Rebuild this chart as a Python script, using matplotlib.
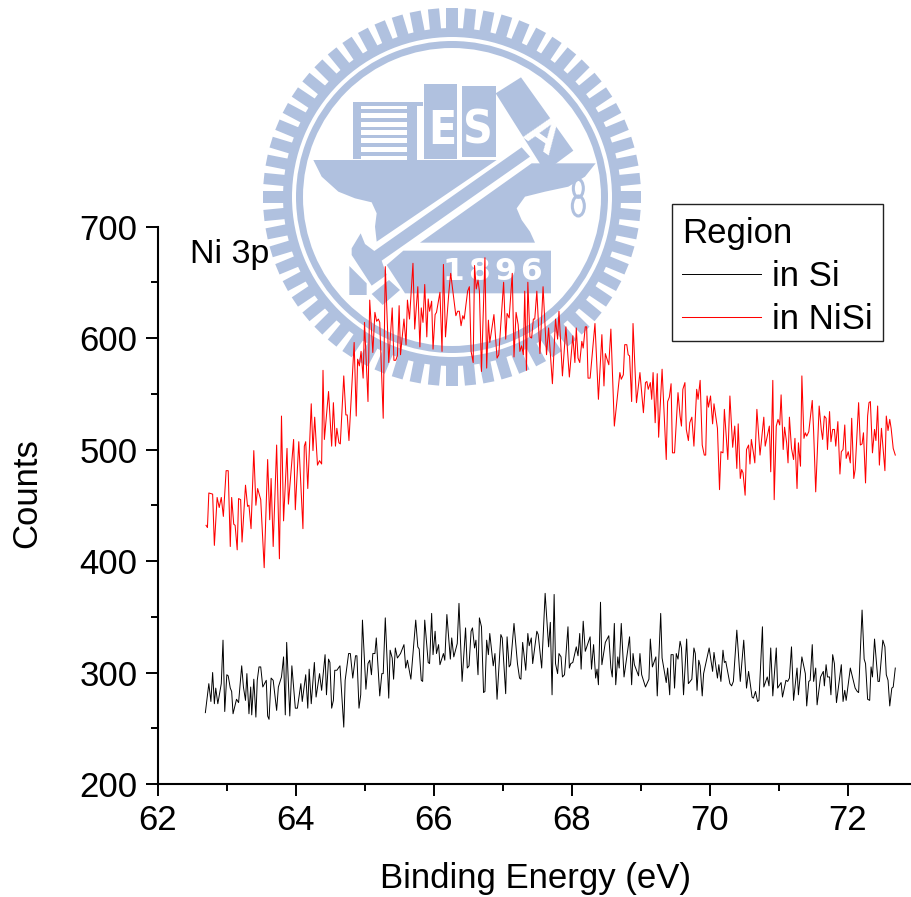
import numpy as np
import matplotlib
matplotlib.use('Agg')
import matplotlib.pyplot as plt
from matplotlib.patches import Wedge, Polygon, Rectangle, Ellipse
from matplotlib.ticker import MultipleLocator

plt.rcParams['font.family'] = ['Liberation Sans', 'DejaVu Sans']

# values
nisi_energy = [
    62.68, 62.70, 62.72, 62.775, 62.80, 62.84, 62.87, 62.90, 62.93, 62.97, 63.00, 63.03, 63.05, 63.08, 63.10, 63.13,
    63.15, 63.18, 63.20, 63.25, 63.28, 63.30, 63.33, 63.37, 63.40, 63.425, 63.47, 63.52, 63.57, 63.60, 63.62, 63.65,
    63.70, 63.74, 63.77, 63.80, 63.85, 63.87, 63.945, 63.97, 64.02, 64.08, 64.10, 64.12, 64.15, 64.20, 64.225, 64.25,
    64.29, 64.32, 64.35, 64.37, 64.39, 64.45, 64.495, 64.52, 64.55, 64.57, 64.60, 64.62, 64.67, 64.70, 64.72, 64.745,
    64.82, 64.85, 64.87, 64.895, 64.92, 64.95, 64.97, 65.02, 65.045, 65.09, 65.12, 65.145, 65.17, 65.19, 65.24, 65.27,
    65.32, 65.37, 65.395, 65.42, 65.445, 65.47, 65.49, 65.54, 65.57, 65.59, 65.62, 65.67, 65.695, 65.74, 65.77, 65.79,
    65.815, 65.84, 65.87, 65.89, 65.91, 65.94, 65.96, 65.99, 66.01, 66.06, 66.09, 66.11, 66.14, 66.19, 66.215, 66.29,
    66.315, 66.34, 66.365, 66.39, 66.41, 66.46, 66.485, 66.51, 66.54, 66.56, 66.585, 66.61, 66.63, 66.66, 66.71, 66.735,
    66.76, 66.78, 66.84, 66.885, 66.91, 66.98, 67.01, 67.03, 67.06, 67.105, 67.13, 67.16, 67.19, 67.215, 67.24, 67.265,
    67.285, 67.31, 67.33, 67.36, 67.385, 67.41, 67.43, 67.46, 67.505, 67.55, 67.60, 67.63, 67.685, 67.73, 67.76, 67.78,
    67.83, 67.88, 67.93, 67.98, 68.01, 68.03, 68.055, 68.08, 68.11, 68.13, 68.16, 68.18, 68.20, 68.23, 68.30, 68.35,
    68.40, 68.43, 68.45, 68.50, 68.53, 68.58, 68.66, 68.68, 68.71, 68.73, 68.76, 68.78, 68.80, 68.83, 68.85, 68.90,
    68.95, 69.00, 69.03, 69.05, 69.07, 69.10, 69.12, 69.14, 69.17, 69.20, 69.22, 69.27, 69.33, 69.35, 69.375, 69.40,
    69.42, 69.45, 69.50, 69.53, 69.55, 69.57, 69.60, 69.62, 69.65, 69.67, 69.70, 69.73, 69.77, 69.79, 69.82, 69.85,
    69.88, 69.90, 69.92, 69.94, 69.97, 70.00, 70.02, 70.07, 70.10, 70.12, 70.15, 70.17, 70.22, 70.25, 70.29, 70.32,
    70.35, 70.37, 70.40, 70.42, 70.44, 70.47, 70.49, 70.52, 70.54, 70.56, 70.59, 70.61, 70.64, 70.685, 70.74, 70.76,
    70.82, 70.84, 70.87, 70.89, 70.92, 70.945, 70.97, 70.99, 71.02, 71.04, 71.07, 71.09, 71.11, 71.14, 71.17, 71.19,
    71.22, 71.24, 71.27, 71.29, 71.32, 71.34, 71.36, 71.39, 71.44, 71.46, 71.49, 71.54, 71.57, 71.59, 71.615, 71.64,
    71.66, 71.69, 71.71, 71.735, 71.76, 71.78, 71.81, 71.84, 71.86, 71.885, 71.91, 71.93, 71.96, 71.99, 72.01, 72.04,
    72.06, 72.11, 72.135, 72.16, 72.18, 72.21, 72.24, 72.26, 72.28, 72.31, 72.34, 72.36, 72.385, 72.41, 72.44, 72.49,
    72.51, 72.535, 72.56, 72.58, 72.61, 72.64]
nisi_counts = [
    432, 430, 461, 460, 414, 457, 448, 457, 440, 481, 481, 413, 457, 433, 432, 410,
    456, 455, 417, 468, 449, 450, 429, 499, 450, 465, 455, 394, 491, 437, 474, 413,
    504, 402, 530, 436, 501, 451, 509, 446, 507, 429, 503, 507, 465, 541, 499, 529,
    486, 490, 487, 571, 509, 552, 503, 542, 503, 519, 506, 505, 566, 531, 531, 508,
    596, 530, 581, 575, 588, 564, 614, 543, 634, 587, 623, 615, 617, 614, 528, 664,
    578, 627, 580, 580, 584, 629, 585, 617, 594, 634, 617, 667, 608, 646, 592, 627,
    614, 648, 601, 635, 624, 633, 590, 621, 623, 641, 588, 666, 601, 642, 658, 620,
    624, 624, 611, 620, 617, 642, 646, 588, 578, 665, 644, 652, 642, 570, 672, 573,
    616, 596, 621, 582, 585, 650, 599, 622, 618, 658, 583, 623, 612, 588, 593, 585,
    642, 571, 650, 601, 600, 617, 617, 642, 586, 646, 585, 609, 559, 617, 599, 624,
    566, 610, 565, 602, 578, 609, 582, 578, 597, 591, 610, 610, 564, 564, 613, 545,
    603, 557, 586, 576, 608, 521, 569, 563, 567, 594, 594, 585, 584, 543, 613, 542,
    569, 533, 560, 561, 554, 560, 545, 569, 524, 568, 511, 572, 491, 543, 547, 559,
    497, 497, 551, 530, 521, 554, 560, 518, 508, 524, 529, 503, 554, 545, 562, 504,
    495, 495, 548, 538, 548, 523, 541, 519, 464, 498, 497, 536, 491, 548, 502, 521,
    483, 523, 474, 482, 479, 459, 500, 504, 487, 509, 497, 488, 536, 495, 529, 503,
    521, 480, 562, 455, 521, 527, 522, 549, 500, 520, 506, 488, 529, 501, 491, 510,
    465, 506, 485, 566, 510, 515, 512, 516, 544, 516, 462, 539, 518, 509, 530, 528,
    500, 534, 507, 518, 518, 503, 525, 478, 498, 500, 522, 492, 498, 488, 528, 474,
    482, 542, 504, 505, 515, 470, 530, 542, 543, 497, 518, 508, 539, 486, 519, 481,
    530, 517, 527, 519, 501, 495]
si_energy = [
    62.67, 62.72, 62.75, 62.775, 62.80, 62.82, 62.85, 62.90, 62.925, 62.95, 62.98, 63.00, 63.03, 63.05, 63.07, 63.12,
    63.15, 63.195, 63.22, 63.25, 63.27, 63.30, 63.325, 63.34, 63.37, 63.40, 63.42, 63.445, 63.47, 63.50, 63.55, 63.57,
    63.59, 63.62, 63.65, 63.70, 63.725, 63.77, 63.80, 63.825, 63.845, 63.89, 63.92, 63.97, 64.00, 64.05, 64.07, 64.12,
    64.15, 64.17, 64.20, 64.245, 64.27, 64.32, 64.35, 64.40, 64.42, 64.45, 64.47, 64.495, 64.52, 64.54, 64.57, 64.615,
    64.67, 64.69, 64.74, 64.765, 64.80, 64.84, 64.86, 64.89, 64.915, 64.94, 64.99, 65.02, 65.045, 65.07, 65.09, 65.12,
    65.14, 65.19, 65.22, 65.24, 65.27, 65.32, 65.34, 65.37, 65.39, 65.415, 65.445, 65.49, 65.54, 65.565, 65.59, 65.64,
    65.71, 65.74, 65.76, 65.79, 65.81, 65.84, 65.89, 65.91, 65.94, 65.96, 65.99, 66.01, 66.04, 66.06, 66.11, 66.13,
    66.16, 66.21, 66.23, 66.26, 66.31, 66.335, 66.38, 66.43, 66.455, 66.48, 66.51, 66.53, 66.56, 66.58, 66.61, 66.63,
    66.66, 66.69, 66.71, 66.735, 66.76, 66.78, 66.83, 66.855, 66.885, 66.94, 66.96, 67.01, 67.03, 67.06, 67.08, 67.13,
    67.18, 67.21, 67.23, 67.255, 67.30, 67.33, 67.35, 67.38, 67.40, 67.46, 67.48, 67.53, 67.58, 67.63, 67.655, 67.68,
    67.71, 67.73, 67.76, 67.78, 67.81, 67.83, 67.86, 67.91, 67.93, 67.95, 67.98, 68.03, 68.055, 68.08, 68.10, 68.13,
    68.16, 68.23, 68.25, 68.28, 68.31, 68.33, 68.35, 68.38, 68.40, 68.45, 68.50, 68.53, 68.55, 68.58, 68.60, 68.63,
    68.65, 68.68, 68.72, 68.80, 68.83, 68.85, 68.87, 68.93, 68.95, 68.975, 69.03, 69.08, 69.10, 69.13, 69.18, 69.20,
    69.25, 69.27, 69.33, 69.35, 69.38, 69.40, 69.43, 69.45, 69.475, 69.50, 69.53, 69.55, 69.58, 69.625, 69.65, 69.70,
    69.73, 69.75, 69.775, 69.80, 69.82, 69.85, 69.87, 69.95, 70.00, 70.02, 70.07, 70.09, 70.12, 70.15, 70.17, 70.19,
    70.25, 70.275, 70.30, 70.35, 70.40, 70.45, 70.49, 70.52, 70.57, 70.59, 70.62, 70.65, 70.67, 70.72, 70.74, 70.79,
    70.815, 70.84, 70.87, 70.92, 70.94, 70.99, 71.01, 71.06, 71.085, 71.11, 71.14, 71.17, 71.22, 71.24, 71.29, 71.34,
    71.36, 71.39, 71.41, 71.44, 71.46, 71.49, 71.51, 71.56, 71.60, 71.615, 71.64, 71.66, 71.69, 71.71, 71.735, 71.76,
    71.79, 71.86, 71.885, 71.91, 71.93, 71.99, 72.06, 72.09, 72.11, 72.16, 72.19, 72.21, 72.24, 72.27, 72.29, 72.31,
    72.34, 72.39, 72.41, 72.46, 72.49, 72.51, 72.535, 72.56, 72.59, 72.61, 72.64]
si_counts = [
    264, 290, 274, 300, 272, 286, 272, 290, 329, 265, 298, 297, 286, 283, 263, 276,
    273, 306, 287, 275, 299, 263, 287, 262, 294, 260, 293, 305, 305, 287, 293, 261,
    258, 295, 293, 266, 287, 296, 314, 262, 327, 261, 306, 268, 268, 290, 274, 298,
    268, 303, 272, 309, 278, 299, 284, 316, 280, 312, 309, 268, 275, 302, 302, 306,
    251, 293, 317, 317, 295, 315, 315, 268, 280, 347, 285, 308, 311, 298, 317, 317,
    331, 279, 299, 299, 349, 277, 320, 313, 294, 322, 313, 317, 325, 304, 311, 294,
    347, 323, 321, 293, 292, 347, 309, 308, 353, 316, 337, 317, 325, 307, 317, 311,
    352, 312, 331, 314, 326, 362, 292, 340, 304, 306, 337, 340, 322, 329, 298, 349,
    341, 282, 283, 329, 316, 335, 306, 317, 276, 334, 331, 281, 332, 305, 307, 344,
    308, 295, 294, 327, 302, 335, 324, 331, 308, 337, 334, 304, 371, 323, 345, 280,
    370, 308, 299, 317, 314, 296, 298, 341, 304, 308, 309, 323, 315, 335, 303, 346,
    319, 332, 303, 325, 295, 303, 289, 363, 307, 327, 333, 304, 296, 344, 289, 314,
    304, 344, 296, 332, 289, 317, 307, 297, 317, 298, 287, 294, 330, 305, 314, 279,
    353, 313, 291, 304, 280, 316, 316, 286, 317, 312, 328, 322, 280, 330, 290, 294,
    322, 317, 284, 311, 306, 279, 299, 322, 301, 318, 295, 307, 292, 320, 309, 310,
    290, 288, 292, 338, 292, 329, 286, 301, 278, 277, 283, 274, 275, 341, 287, 296,
    288, 322, 279, 322, 286, 291, 278, 293, 292, 295, 323, 275, 304, 280, 314, 299,
    270, 292, 293, 325, 292, 304, 271, 296, 301, 288, 307, 296, 296, 280, 316, 308,
    273, 307, 274, 284, 275, 304, 286, 283, 282, 356, 312, 308, 276, 275, 305, 296,
    330, 292, 292, 329, 323, 298, 293, 270, 286, 287, 304]

x_ticks = [62, 64, 66, 68, 70, 72]
y_ticks = [200, 300, 400, 500, 600, 700]

W, H = 911, 897
LOGO = '#B0C1DF'

fig = plt.figure(figsize=(W / 100, H / 100), dpi=100)

# watermark behind the plot, drawn in pixel coordinates
bg = fig.add_axes([0, 0, 1, 1], zorder=0)
bg.set_xlim(0, W)
bg.set_ylim(H, 0)
bg.axis('off')


def lp(x, y):
    # logo outlines were measured on a 3x crop starting at x=255
    return (255 + x / 3, y / 3)


def poly(points, color=LOGO):
    bg.add_patch(Polygon([lp(*p) for p in points], closed=True, fc=color, ec='none'))


def rect(x0, y0, x1, y1, color=LOGO):
    bg.add_patch(Rectangle(lp(x0, y0), (x1 - x0) / 3, (y1 - y0) / 3, fc=color, ec='none'))


center = (452, 197)
n_teeth = 64
for i in range(n_teeth):
    a = 2 * np.pi * i / n_teeth
    ux, uy = np.cos(a), np.sin(a)
    corners = [(r * ux + s * -uy, r * uy + s * ux) for r, s in [(167, -5.6), (189, -5.6), (189, 5.6), (167, 5.6)]]
    bg.add_patch(Polygon([(center[0] + px, center[1] + py) for px, py in corners], closed=True, fc=LOGO, ec='none'))
bg.add_patch(Wedge(center, 169, 0, 360, width=9, fc=LOGO, ec='none'))
bg.add_patch(Wedge(center, 156, 0, 360, width=7, fc=LOGO, ec='none'))

# anvil, hammer
poly([(175, 480), (200, 530), (250, 575), (300, 595), (350, 607), (365, 640), (360, 680), (365, 725), (725, 480)])
poly([(317, 700), (330, 732), (358, 753), (800, 442), (825, 470), (380, 782), (395, 825), (350, 857), (290, 765), (290, 745)])
poly([(495, 728), (830, 490), (1022, 490), (990, 530), (940, 560), (870, 575), (810, 590), (785, 625), (800, 660), (825, 695), (840, 728)])
poly([(445, 752), (888, 752), (888, 880), (450, 880), (395, 795)])
poly([(283, 798), (335, 850), (335, 885), (283, 885)])
poly([(350, 882), (402, 840), (435, 870), (383, 915)])

# books
rect(293, 305, 503, 317)
rect(293, 305, 319, 478)
rect(455, 305, 487, 482)
for y0, y1 in [(328, 338), (355, 365), (380, 390), (405, 415), (430, 442), (455, 468)]:
    rect(319, y0, 455, y1)
rect(507, 252, 607, 478)
rect(622, 258, 723, 472)
poly([(722, 280), (798, 232), (955, 452), (870, 515)])

condensed = dict(color='white', fontweight='bold', ha='center', va='center', family='DejaVu Sans', stretch='condensed')
bg.text(*lp(561, 393), 'E', fontsize=33, **condensed)
bg.text(*lp(670, 393), 'S', fontsize=33, **condensed)
bg.text(*lp(861, 412), 'A', fontsize=34, rotation=-35, color='white', fontweight='bold', ha='center', va='center')
for x, ch in zip([595, 672, 750, 827], '1896'):
    bg.text(*lp(x, 813), ch, fontsize=22.5, color='white', fontweight='bold', ha='center', va='center', family='DejaVu Sans')

# the small 8 on the anvil
bg.add_patch(Ellipse(lp(970, 565), 10, 18, fc='none', ec=LOGO, lw=2.2))
bg.add_patch(Ellipse(lp(970, 618), 12, 20, fc='none', ec=LOGO, lw=2.2))

# plot
x_left, x_right = 158, 911
y_bottom, y_top = 784, 226.5
ax = fig.add_axes([x_left / W, 1 - y_bottom / H, (x_right - x_left) / W, (y_bottom - y_top) / H], zorder=1)
ax.patch.set_visible(False)

# the energies above were read with a slightly off scale, 1.0029 and 0.0145 put them on the tick marks
si_x = 62 + (np.array(si_energy) - 62) * 1.0029 + 0.0145
nisi_x = 62 + (np.array(nisi_energy) - 62) * 1.0029 + 0.0145
ax.plot(si_x, si_counts, color='black', lw=0.7, label='in Si')
ax.plot(nisi_x, nisi_counts, color='red', lw=0.75, label='in NiSi')

ax.set_xlim(62, 62 + (x_right - x_left) / 69)
ax.set_ylim(200, 700)
ax.set_xticks(x_ticks)
ax.set_yticks(y_ticks)
ax.xaxis.set_minor_locator(MultipleLocator(1))
ax.yaxis.set_minor_locator(MultipleLocator(50))
ax.tick_params(which='major', length=8.6, width=1.4, labelsize=25, pad=6)
ax.tick_params(which='minor', length=4.8, width=1.4)
ax.spines['top'].set_visible(False)
ax.spines['right'].set_visible(False)
ax.spines['left'].set_linewidth(1.5)
ax.spines['bottom'].set_linewidth(1.5)

ax.text(62.47, 675, 'Ni 3p', fontsize=24.5, va='center')

fig.text(27 / W, 1 - 493 / H, 'Counts', fontsize=25, rotation=90, ha='center', va='center')
fig.text(536 / W, 1 - 878 / H, 'Binding Energy (eV)', fontsize=25, ha='center', va='center')

# legend box is drawn on its own, the text sits lower in it than a normal legend would allow
bg.add_patch(Rectangle((672, 204), 211, 137, fc='white', ec='#222222', lw=1.0))
leg = ax.legend(title='Region', loc='upper left', bbox_to_anchor=(672 / W, 1 - 207 / H), bbox_transform=fig.transFigure,
                borderaxespad=0, frameon=False, fontsize=25, title_fontsize=25,
                alignment='left', handlelength=2.25, handletextpad=0.32, labelspacing=0.28, borderpad=0.3)

fig.savefig('out.png', dpi=100)
